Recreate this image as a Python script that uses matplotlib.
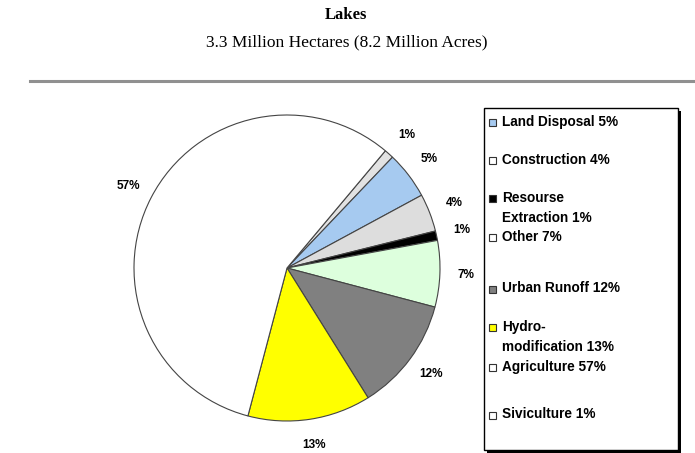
import matplotlib
matplotlib.use("Agg")
import matplotlib.pyplot as plt
from matplotlib.patches import Rectangle

# slices, clockwise from the top-right
shares = [1, 5, 4, 1, 7, 12, 13, 57]
slice_colors = ['#e2e2e2', '#a6caf0', '#dddddd', '#000000', '#ddffdd', '#808080', '#ffff00', '#ffffff']

# legend (drawn in the order of the original key)
legend_labels = ['Land Disposal 5%', 'Construction 4%', 'Resourse\nExtraction 1%', 'Other 7%',
                 'Urban Runoff 12%', 'Hydro-\nmodification 13%', 'Agriculture 57%', 'Siviculture 1%']
legend_colors = ['#a6caf0', '#ffffff', '#000000', '#ffffff', '#808080', '#ffff00', '#ffffff', '#ffffff']

W, H = 695, 453
fig = plt.figure(figsize=(W / 100, H / 100), dpi=100)

fig.text(346 / W, 1 - 15 / H, 'Lakes', ha='center', va='center',
         family='Liberation Serif', weight='bold', fontsize=12)
fig.text(347 / W, 1 - 42 / H, '3.3 Million Hectares (8.2 Million Acres)', ha='center', va='center',
         family='Liberation Serif', fontsize=12.5)

# rule under the title
fig.add_artist(plt.Line2D([30 / W, 1.0], [1 - 81 / H, 1 - 81 / H], color='#909090', lw=2.2))

# pie
cx, cy, r = 287, 268, 153
ax = fig.add_axes([(cx - r) / W, (H - cy - r) / H, 2 * r / W, 2 * r / H])
ax.pie(shares, colors=slice_colors, startangle=50, counterclock=False,
       autopct='%.0f%%', pctdistance=1.17,
       wedgeprops=dict(edgecolor='#444444', linewidth=0.8),
       textprops=dict(family='Liberation Sans', weight='bold', fontsize=8.5))
ax.set_xlim(-1, 1)
ax.set_ylim(-1, 1)
ax.set_aspect('equal')
ax.axis('off')

# legend box with shadow
lx0, ly0, lx1, ly1 = 484, 108, 678, 450
fig.add_artist(Rectangle(((lx0 + 3) / W, (H - ly1 - 3) / H), (lx1 - lx0) / W, (ly1 - ly0) / H,
                         transform=fig.transFigure, facecolor='#000000', edgecolor='none'))
fig.add_artist(Rectangle((lx0 / W, (H - ly1) / H), (lx1 - lx0) / W, (ly1 - ly0) / H,
                         transform=fig.transFigure, facecolor='white', edgecolor='#000000', lw=1))

entry_y = [122, 160, 198, 237, 289, 327, 367, 415]
for lab, col, y in zip(legend_labels, legend_colors, entry_y):
    fig.add_artist(Rectangle((489 / W, (H - y - 3.5) / H), 7 / W, 7 / H, transform=fig.transFigure,
                             facecolor=col, edgecolor='#333333', lw=0.8))
    fig.text(502 / W, 1 - (y - 7.5) / H, lab, ha='left', va='top', family='Liberation Sans',
             weight='bold', fontsize=9.8, linespacing=1.55)

fig.savefig('out.png', dpi=100)
